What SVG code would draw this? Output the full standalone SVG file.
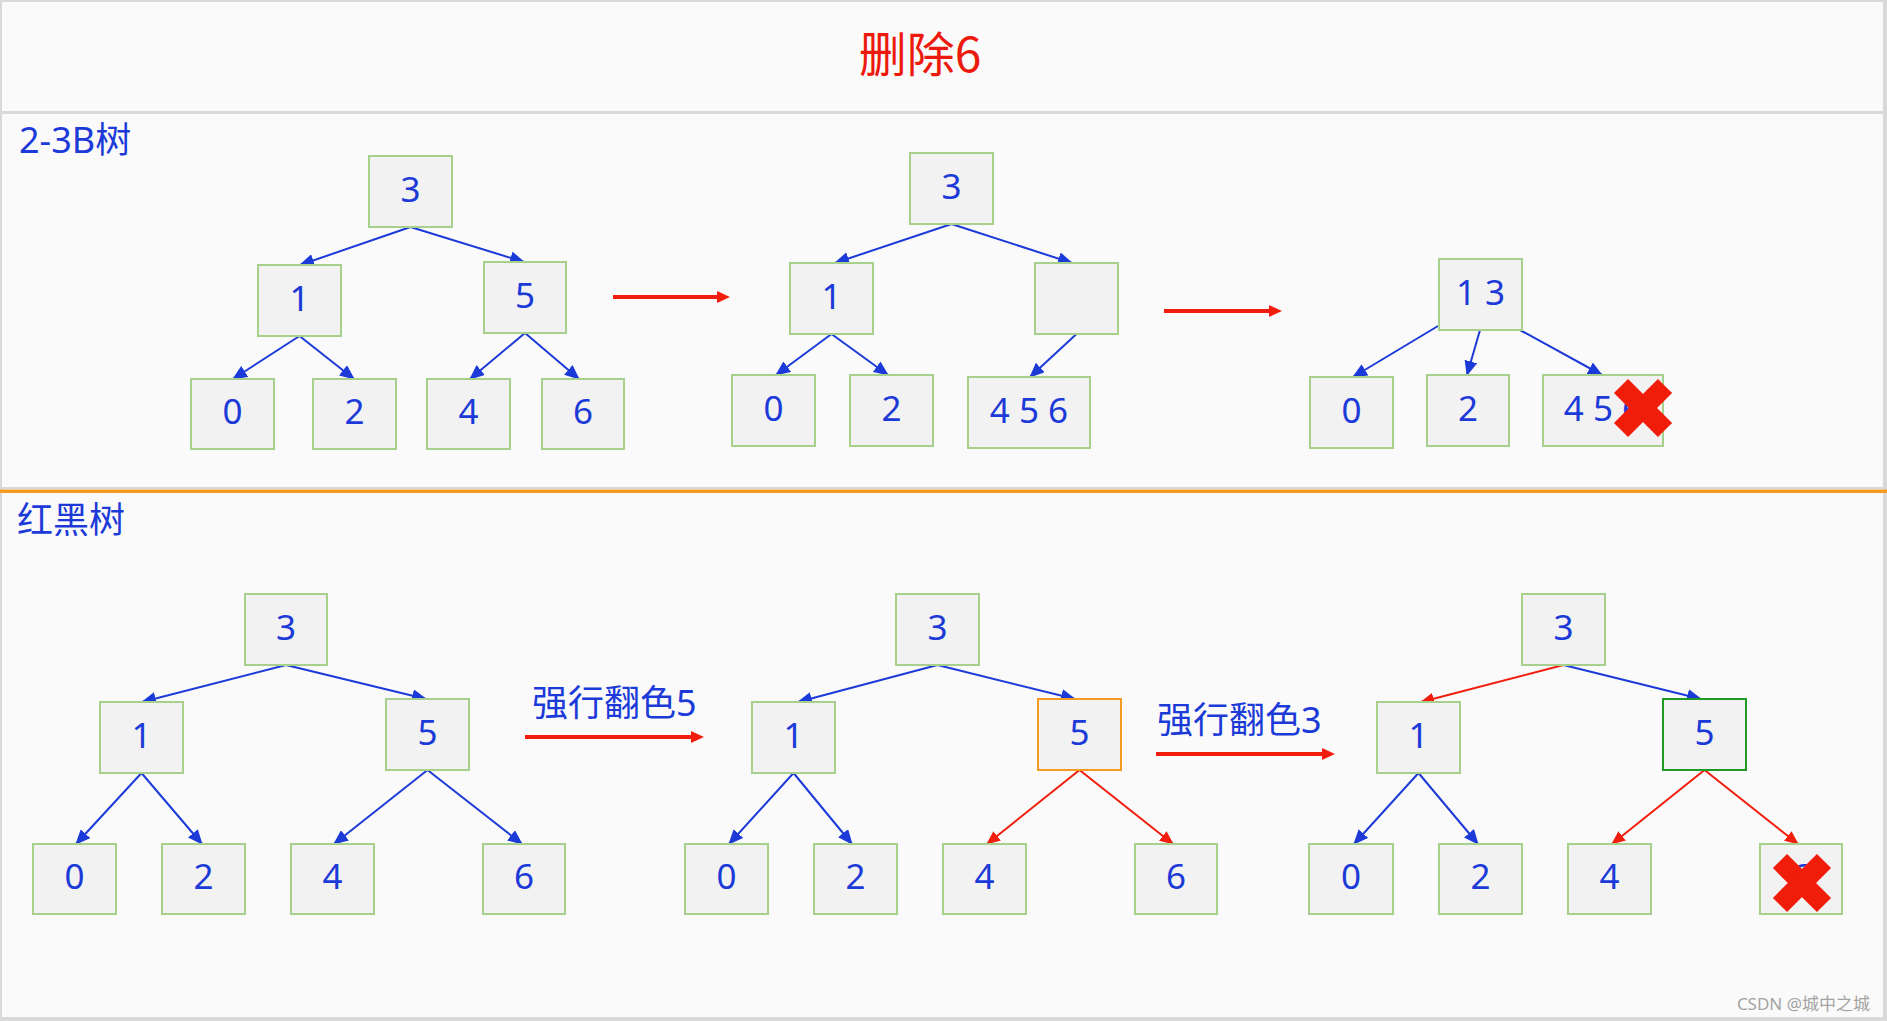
<svg xmlns="http://www.w3.org/2000/svg" width="1887" height="1021" viewBox="0 0 1887 1021">
<defs>
<style>
.nd{fill:#f2f2f2;stroke:#a7d08c;stroke-width:2}
.nd.or{stroke:#f59a23}
.nd.dg{stroke:#1f9a24}
.tx{font-family:"Noto Sans","Noto Sans CJK SC",sans-serif;font-size:35px;fill:#1c3ad8;text-anchor:middle}
.lbl{font-family:"Noto Sans","Noto Sans CJK SC",sans-serif;font-size:36px;fill:#1c3ad8}
.eb{stroke:#1c3ad8;stroke-width:2;fill:none;marker-end:url(#ab)}
.er{stroke:#f21d0d;stroke-width:2;fill:none;marker-end:url(#ar)}
.big{stroke:#f21d0d;stroke-width:4;fill:none;marker-end:url(#abig)}
.x{stroke:#f01d0a;stroke-width:20;stroke-linecap:butt}
</style>
<marker id="ab" markerUnits="userSpaceOnUse" markerWidth="15" markerHeight="13" refX="14" refY="6.5" orient="auto"><path d="M0,0 L15,6.5 L0,13 z" fill="#1c3ad8"/></marker>
<marker id="ar" markerUnits="userSpaceOnUse" markerWidth="14" markerHeight="12" refX="13" refY="6" orient="auto"><path d="M0,0 L14,6 L0,12 z" fill="#f21d0d"/></marker>
<marker id="abig" markerUnits="userSpaceOnUse" markerWidth="13" markerHeight="12" refX="1" refY="6" orient="auto"><path d="M0,0 L13,6 L0,12 z" fill="#f21d0d"/></marker>
</defs>
<rect x="0" y="0" width="1887" height="1021" fill="#fafafa"/>
<g id="frame" fill="#d9d9d9">
<rect x="0" y="0" width="1887" height="2"/>
<rect x="0" y="0" width="2" height="1021"/>
<rect x="1883" y="0" width="4" height="1021"/>
<rect x="0" y="1017" width="1887" height="4"/>
<rect x="0" y="111" width="1887" height="3"/>
<rect x="0" y="487" width="1887" height="2"/>
<rect x="0" y="489.5" width="1887" height="3.5" fill="#f59a23"/>
</g>
<g id="title"><text x="920" y="72" font-family="'Noto Sans CJK SC',sans-serif" font-size="48" fill="#ec1a0c" text-anchor="middle">删除6</text></g>
<g id="label-23"><text class="lbl" x="19" y="153">2-3B树</text></g>
<g id="label-rb"><text class="lbl" x="17" y="533">红黑树</text></g>
<g id="label-flip5"><text class="lbl" x="532" y="716">强行翻色5</text></g>
<g id="label-flip3"><text class="lbl" x="1157" y="733">强行翻色3</text></g>

<g id="connectors">
<line class="eb" x1="410.5" y1="227" x2="300" y2="265"/>
<line class="eb" x1="410.5" y1="227" x2="524" y2="262"/>
<line class="eb" x1="299.5" y1="336" x2="233" y2="379"/>
<line class="eb" x1="299.5" y1="336" x2="354" y2="379"/>
<line class="eb" x1="525" y1="333" x2="470" y2="379"/>
<line class="eb" x1="525" y1="333" x2="579" y2="379"/>

<line class="eb" x1="951.5" y1="224" x2="835" y2="263"/>
<line class="eb" x1="951.5" y1="224" x2="1072" y2="263"/>
<line class="eb" x1="831.5" y1="334" x2="776" y2="375"/>
<line class="eb" x1="831.5" y1="334" x2="888" y2="375"/>
<line class="eb" x1="1076.5" y1="334" x2="1030" y2="377"/>

<line class="eb" x1="1438" y1="326" x2="1353" y2="377"/>
<line class="eb" x1="1480" y1="330" x2="1467" y2="375"/>
<line class="eb" x1="1520" y1="330" x2="1602" y2="375"/>

<line class="eb" x1="286" y1="665" x2="142" y2="702"/>
<line class="eb" x1="286" y1="665" x2="426" y2="699"/>
<line class="eb" x1="141.5" y1="773" x2="76" y2="844"/>
<line class="eb" x1="141.5" y1="773" x2="202" y2="844"/>
<line class="eb" x1="427.5" y1="770" x2="334" y2="844"/>
<line class="eb" x1="427.5" y1="770" x2="522" y2="844"/>

<line class="eb" x1="937.5" y1="665" x2="798" y2="702"/>
<line class="eb" x1="937.5" y1="665" x2="1075" y2="699"/>
<line class="eb" x1="793.5" y1="773" x2="729" y2="844"/>
<line class="eb" x1="793.5" y1="773" x2="852" y2="844"/>
<line class="er" x1="1079.5" y1="770" x2="987" y2="844"/>
<line class="er" x1="1079.5" y1="770" x2="1173" y2="844"/>

<line class="er" x1="1563.5" y1="665" x2="1421" y2="702"/>
<line class="eb" x1="1563.5" y1="665" x2="1701" y2="699"/>
<line class="eb" x1="1418.5" y1="773" x2="1354" y2="844"/>
<line class="eb" x1="1418.5" y1="773" x2="1478" y2="844"/>
<line class="er" x1="1704.5" y1="770" x2="1612" y2="844"/>
<line class="er" x1="1704.5" y1="770" x2="1798" y2="844"/>

<line class="big" x1="613" y1="297" x2="718" y2="297"/>
<line class="big" x1="1164" y1="311" x2="1270" y2="311"/>
<line class="big" x1="525" y1="737" x2="692" y2="737"/>
<line class="big" x1="1156" y1="754" x2="1323" y2="754"/>
</g>

<g id="t1-3"><rect class="nd" x="369" y="156" width="83" height="71"/><text class="tx" x="410.5" y="202">3</text></g>
<g id="t1-1"><rect class="nd" x="258" y="265" width="83" height="71"/><text class="tx" x="299.5" y="311">1</text></g>
<g id="t1-5"><rect class="nd" x="484" y="262" width="82" height="71"/><text class="tx" x="525" y="308">5</text></g>
<g id="t1-0"><rect class="nd" x="191" y="379" width="83" height="70"/><text class="tx" x="232.5" y="424">0</text></g>
<g id="t1-2"><rect class="nd" x="313" y="379" width="83" height="70"/><text class="tx" x="354.5" y="424">2</text></g>
<g id="t1-4"><rect class="nd" x="427" y="379" width="83" height="70"/><text class="tx" x="468.5" y="424">4</text></g>
<g id="t1-6"><rect class="nd" x="542" y="379" width="82" height="70"/><text class="tx" x="583" y="424">6</text></g>

<g id="t2-3"><rect class="nd" x="910" y="153" width="83" height="71"/><text class="tx" x="951.5" y="199">3</text></g>
<g id="t2-1"><rect class="nd" x="790" y="263" width="83" height="71"/><text class="tx" x="831.5" y="309">1</text></g>
<g id="t2-empty"><rect class="nd" x="1035" y="263" width="83" height="71"/></g>
<g id="t2-0"><rect class="nd" x="732" y="375" width="83" height="71"/><text class="tx" x="773.5" y="421">0</text></g>
<g id="t2-2"><rect class="nd" x="850" y="375" width="83" height="71"/><text class="tx" x="891.5" y="421">2</text></g>
<g id="t2-456"><rect class="nd" x="968" y="377" width="122" height="71"/><text class="tx" x="1029" y="423">4 5 6</text></g>

<g id="t3-13"><rect class="nd" x="1439" y="259" width="83" height="71"/><text class="tx" x="1480.5" y="305">1 3</text></g>
<g id="t3-0"><rect class="nd" x="1310" y="377" width="83" height="71"/><text class="tx" x="1351.5" y="423">0</text></g>
<g id="t3-2"><rect class="nd" x="1427" y="375" width="82" height="71"/><text class="tx" x="1468" y="421">2</text></g>
<g id="t3-45"><rect class="nd" x="1543" y="375" width="120" height="71"/><text class="tx" x="1603" y="421">4 5 6</text>
<line class="x" x1="1621" y1="386" x2="1665" y2="430"/><line class="x" x1="1665" y1="386" x2="1621" y2="430"/></g>

<g id="r1-3"><rect class="nd" x="245" y="594" width="82" height="71"/><text class="tx" x="286" y="640">3</text></g>
<g id="r1-1"><rect class="nd" x="100" y="702" width="83" height="71"/><text class="tx" x="141.5" y="748">1</text></g>
<g id="r1-5"><rect class="nd" x="386" y="699" width="83" height="71"/><text class="tx" x="427.5" y="745">5</text></g>
<g id="r1-0"><rect class="nd" x="33" y="844" width="83" height="70"/><text class="tx" x="74.5" y="889">0</text></g>
<g id="r1-2"><rect class="nd" x="162" y="844" width="83" height="70"/><text class="tx" x="203.5" y="889">2</text></g>
<g id="r1-4"><rect class="nd" x="291" y="844" width="83" height="70"/><text class="tx" x="332.5" y="889">4</text></g>
<g id="r1-6"><rect class="nd" x="483" y="844" width="82" height="70"/><text class="tx" x="524" y="889">6</text></g>

<g id="r2-3"><rect class="nd" x="896" y="594" width="83" height="71"/><text class="tx" x="937.5" y="640">3</text></g>
<g id="r2-1"><rect class="nd" x="752" y="702" width="83" height="71"/><text class="tx" x="793.5" y="748">1</text></g>
<g id="r2-5"><rect class="nd or" x="1038" y="699" width="83" height="71"/><text class="tx" x="1079.5" y="745">5</text></g>
<g id="r2-0"><rect class="nd" x="685" y="844" width="83" height="70"/><text class="tx" x="726.5" y="889">0</text></g>
<g id="r2-2"><rect class="nd" x="814" y="844" width="83" height="70"/><text class="tx" x="855.5" y="889">2</text></g>
<g id="r2-4"><rect class="nd" x="943" y="844" width="83" height="70"/><text class="tx" x="984.5" y="889">4</text></g>
<g id="r2-6"><rect class="nd" x="1135" y="844" width="82" height="70"/><text class="tx" x="1176" y="889">6</text></g>

<g id="r3-3"><rect class="nd" x="1522" y="594" width="83" height="71"/><text class="tx" x="1563.5" y="640">3</text></g>
<g id="r3-1"><rect class="nd" x="1377" y="702" width="83" height="71"/><text class="tx" x="1418.5" y="748">1</text></g>
<g id="r3-5"><rect class="nd dg" x="1663" y="699" width="83" height="71"/><text class="tx" x="1704.5" y="745">5</text></g>
<g id="r3-0"><rect class="nd" x="1309" y="844" width="84" height="70"/><text class="tx" x="1351" y="889">0</text></g>
<g id="r3-2"><rect class="nd" x="1439" y="844" width="83" height="70"/><text class="tx" x="1480.5" y="889">2</text></g>
<g id="r3-4"><rect class="nd" x="1568" y="844" width="83" height="70"/><text class="tx" x="1609.5" y="889">4</text></g>
<g id="r3-6"><rect class="nd" x="1760" y="844" width="82" height="70"/><text class="tx" x="1801" y="889">6</text>
<line class="x" x1="1780" y1="861" x2="1824" y2="905"/><line class="x" x1="1824" y1="861" x2="1780" y2="905"/></g>

<g id="watermark"><text x="1870" y="1010" font-family="'Noto Sans','Noto Sans CJK SC',sans-serif" font-size="17" fill="#a3a3a3" text-anchor="end">CSDN @城中之城</text></g>
</svg>
